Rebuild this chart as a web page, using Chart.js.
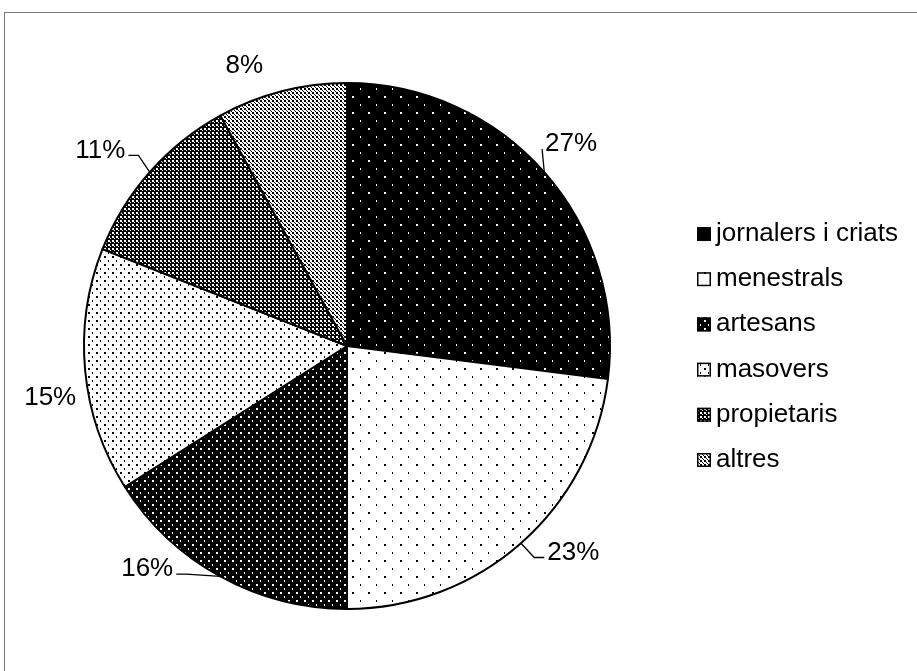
<!DOCTYPE html>
<html>
<head>
<meta charset="utf-8">
<script src="https://cdn.jsdelivr.net/npm/chart.js@4/dist/chart.umd.min.js"></script>
<style>
  html, body { margin: 0; padding: 0; background: #fff; overflow: hidden; }
  #frame { position: absolute; left: 4px; top: 12px; width: 1000px; height: 1000px; border: 1px solid #7a7a7a; box-sizing: border-box; }
  #wrap { position: absolute; left: 0; top: 0; width: 917px; height: 671px; }
</style>
</head>
<body>
<div id="frame"></div>
<div id="wrap"><canvas id="c" width="917" height="671"></canvas></div>
<script>
// ---- data ----
const categories = ['jornalers i criats', 'menestrals', 'artesans', 'masovers', 'propietaris', 'altres'];
const shares = [27, 23, 16, 15, 11, 8];
const percentLabels = ['27%', '23%', '16%', '15%', '11%', '8%'];

// ---- fill patterns ----
function makePattern(size, bg, fg, rects) {
  const c = document.createElement('canvas');
  c.width = size; c.height = size;
  const x = c.getContext('2d');
  x.fillStyle = bg; x.fillRect(0, 0, size, size);
  x.fillStyle = fg;
  rects.forEach(r => x.fillRect(r[0], r[1], r[2], r[3]));
  return x.createPattern(c, 'repeat');
}
const patterns = [
  makePattern(16, '#000', '#fff', [[0,0,2,2],[8,8,1,2]]),
  makePattern(16, '#fff', '#000', [[0,0,2,2],[8,8,1,2]]),
  makePattern(8, '#000', '#fff', [[0,0,2,2],[4,4,1,2]]),
  makePattern(8, '#fff', '#000', [[0,0,2,2],[4,4,1,2]]),
  makePattern(4, '#000', '#fff', [[0,0,2,2],[2,2,1,1]]),
  makePattern(4, '#fff', '#000', [[0,0,2,2],[2,2,1,1],[3,3,1,1]])
];

const FONT = '26px "Liberation Sans", Arial, sans-serif';

const labelPlugin = {
  id: 'pieLabels',
  afterDatasetsDraw(chart, args, opts) {
    const ctx = chart.ctx;
    const meta = chart.getDatasetMeta(0);
    ctx.save();
    ctx.font = FONT;
    ctx.fillStyle = '#000';
    ctx.strokeStyle = '#000';
    ctx.lineWidth = 1.3;
    meta.data.forEach((arc, i) => {
      const p = arc.getProps(['x','y','startAngle','endAngle','outerRadius'], true);
      const mid = (p.startAngle + p.endAngle) / 2;
      const la = mid + (opts.angleShift[i] || 0) * Math.PI / 180;
      const lr = p.outerRadius + (opts.radialOffset[i] || 0);
      const cx = p.x + Math.cos(la) * lr;
      const cy = p.y + Math.sin(la) * lr;
      const txt = percentLabels[i];
      const w = ctx.measureText(txt).width;
      ctx.textAlign = 'center';
      ctx.textBaseline = 'alphabetic';
      ctx.fillText(txt, cx, cy + 9.3);
      if (opts.leader[i]) {
        const ax = p.x + Math.cos(mid) * p.outerRadius;
        const ay = p.y + Math.sin(mid) * p.outerRadius;
        const dir = cx > p.x ? -1 : 1;
        const sx = cx + dir * (w / 2 + 3);
        const sy = cy + 7;
        ctx.beginPath();
        ctx.moveTo(sx, sy);
        if (Math.abs(ax - sx) > 15) ctx.lineTo(sx + dir * 10, sy);
        ctx.lineTo(ax, ay);
        ctx.stroke();
      }
    });
    // legend
    const lx = opts.legendX, ly0 = opts.legendY, step = opts.legendStep, sq = 14;
    ctx.textAlign = 'left';
    ctx.textBaseline = 'alphabetic';
    categories.forEach((name, i) => {
      const by = ly0 + i * step;
      ctx.fillStyle = patterns[i];
      ctx.fillRect(lx, by - sq, sq, sq);
      ctx.lineWidth = 1.5;
      ctx.strokeStyle = '#000';
      ctx.strokeRect(lx + 0.75, by - sq + 0.75, sq - 1.5, sq - 1.5);
      ctx.fillStyle = '#000';
      ctx.fillText(name, lx + sq + 5, by);
    });
    ctx.restore();
  }
};

new Chart(document.getElementById('c'), {
  type: 'pie',
  data: {
    labels: categories,
    datasets: [{
      data: shares,
      backgroundColor: patterns,
      borderColor: '#000',
      borderWidth: 2
    }]
  },
  options: {
    responsive: false,
    animation: false,
    devicePixelRatio: 1,
    events: [],
    layout: { padding: { left: 83, right: 306, top: 82, bottom: 61 } },
    plugins: {
      legend: { display: false },
      tooltip: { enabled: false },
      pieLabels: {
        angleShift: [-0.9, -6.5, 13.3, -4.2, -2.7, -5.6],
        radialOffset: [40, 42, 35, 38, 53, 37],
        leader: [true, true, true, false, true, false],
        legendX: 697,
        legendY: 241,
        legendStep: 45.2
      }
    }
  },
  plugins: [labelPlugin]
});
</script>
</body>
</html>
